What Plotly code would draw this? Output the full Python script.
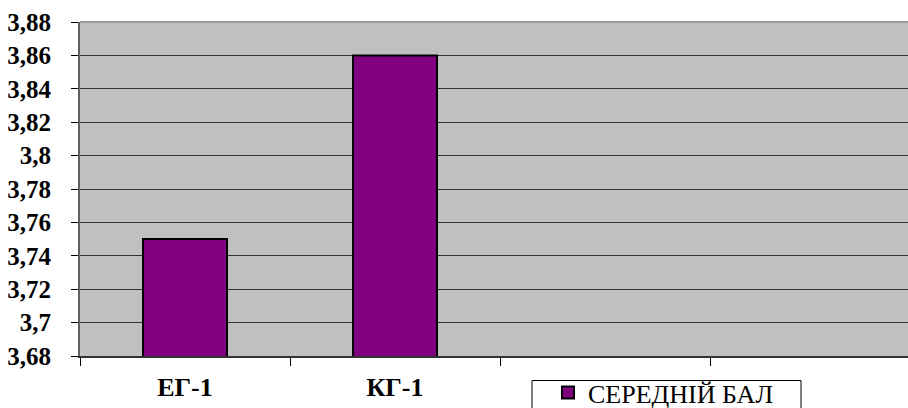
import plotly.graph_objects as go

categories = ["ЕГ-1", "КГ-1", " ", "  "]
values = [3.75, 3.86, None, None]
series_name = "СЕРЕДНІЙ БАЛ"

W, H = 908, 408
ml, mr, mt, mb = 80, 0, 22, 52
PW, PH = W - ml - mr, H - mt - mb
FONT = "Times New Roman, Liberation Serif, DejaVu Serif"


def px_x(v):
    return (v - ml) / PW


def px_y(v):
    return (H - mb - v) / PH


fig = go.Figure()
fig.add_trace(go.Bar(
    x=categories, y=values, name=series_name,
    width=0.4,
    marker=dict(color="#800080", line=dict(color="#000000", width=2)),
    showlegend=True,
))

fig.update_layout(
    width=W, height=H,
    margin=dict(l=ml, r=mr, t=mt, b=mb, pad=0, autoexpand=False),
    paper_bgcolor="white",
    plot_bgcolor="#C0C0C0",
    separators=", ",
    font=dict(family=FONT, color="black"),
    showlegend=True,
    legend=dict(
        x=px_x(548), y=px_y(369),
        xanchor="left", yanchor="top",
        bgcolor="rgba(0,0,0,0)", borderwidth=0,
        font=dict(family=FONT, size=26, color="black"),
    ),
)

fig.update_xaxes(
    type="category",
    categoryorder="array", categoryarray=categories,
    range=[-0.5, -0.5 + PW / 210.0],
    tickson="boundaries",
    ticks="outside", ticklen=8, tickcolor="black", tickwidth=1,
    showgrid=False,
    showline=True, linecolor="#333333", linewidth=2,
    tickfont=dict(family=FONT, size=26, color="black", weight="bold"),
    ticklabelstandoff=7,
    zeroline=False,
    automargin=False,
)

fig.update_yaxes(
    range=[3.68, 3.88],
    tick0=3.68, dtick=0.02,
    ticks="outside", ticklen=7, tickcolor="black", tickwidth=1,
    showgrid=True, gridcolor="#333333", gridwidth=1,
    showline=True, linecolor="#606060", linewidth=2,
    tickfont=dict(family=FONT, size=25, color="black", weight="bold"),
    ticklabelstandoff=15,
    zeroline=False,
    automargin=False,
)

# light top border of plot area
fig.add_shape(type="line", xref="paper", yref="paper", x0=0, x1=1, y0=1, y1=1,
              line=dict(color="#9a9a9a", width=2))
# legend frame
fig.add_shape(type="rect", xref="paper", yref="paper",
              x0=px_x(532), x1=px_x(801), y0=px_y(380.5), y1=px_y(420),
              line=dict(color="black", width=1), fillcolor="white", layer="above")

fig.write_html("out.html")
